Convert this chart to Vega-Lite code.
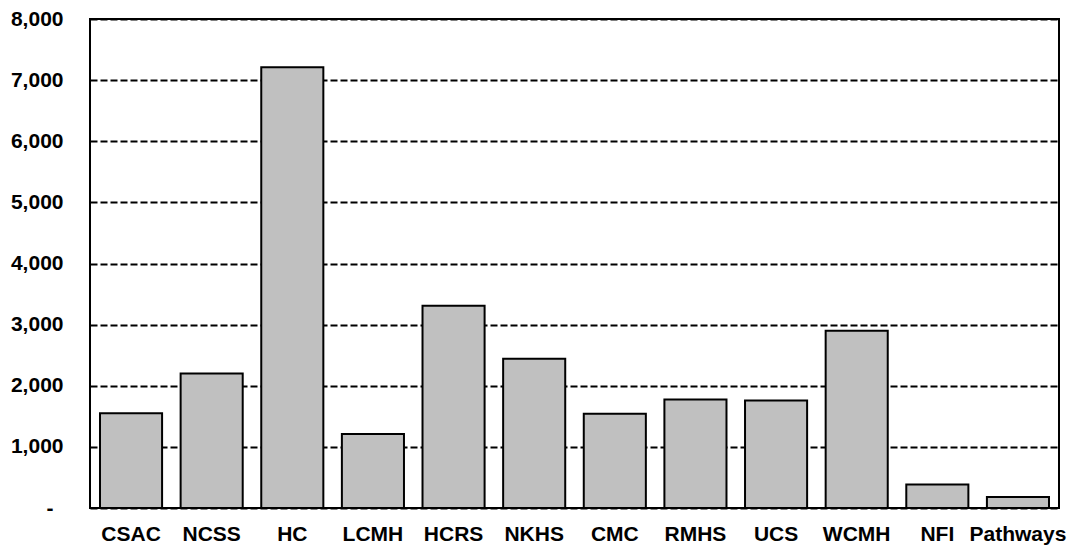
{
  "$schema": "https://vega.github.io/schema/vega-lite/v6.json",
  "width": 969,
  "height": 489,
  "autosize": "none",
  "padding": {"left": 90, "top": 19, "right": 16, "bottom": 40},
  "background": "white",
  "config": {
    "view": {"stroke": "black", "strokeWidth": 2},
    "font": "Liberation Sans"
  },
  "data": {
    "values": [
      {"org": "CSAC", "value": 1550},
      {"org": "NCSS", "value": 2200},
      {"org": "HC", "value": 7210},
      {"org": "LCMH", "value": 1210},
      {"org": "HCRS", "value": 3310},
      {"org": "NKHS", "value": 2440},
      {"org": "CMC", "value": 1540},
      {"org": "RMHS", "value": 1775},
      {"org": "UCS", "value": 1760},
      {"org": "WCMH", "value": 2900},
      {"org": "NFI", "value": 385},
      {"org": "Pathways", "value": 180}
    ]
  },
  "mark": {"type": "bar", "fill": "#c0c0c0", "stroke": "black", "strokeWidth": 2},
  "encoding": {
    "x": {
      "field": "org",
      "type": "nominal",
      "sort": null,
      "scale": {"paddingInner": 0.23, "paddingOuter": 0.124},
      "axis": {
        "title": null,
        "labelAngle": 0,
        "ticks": false,
        "domain": false,
        "labelFont": "Liberation Sans",
        "labelFontWeight": "bold",
        "labelFontSize": 21,
        "labelColor": "black",
        "labelPadding": 15
      }
    },
    "y": {
      "field": "value",
      "type": "quantitative",
      "scale": {"domain": [0, 8000], "nice": false},
      "axis": {
        "title": null,
        "values": [0, 1000, 2000, 3000, 4000, 5000, 6000, 7000, 8000],
        "labelExpr": "datum.value == 0 ? '-' : format(datum.value, ',')",
        "ticks": false,
        "domain": false,
        "labelFont": "Liberation Sans",
        "labelFontWeight": "bold",
        "labelFontSize": 21,
        "labelColor": "black",
        "labelPadding": {"condition": {"test": "datum.value == 0", "value": 37}, "value": 27},
        "grid": true,
        "gridColor": "black",
        "gridWidth": 2,
        "gridDash": [7, 3],
        "gridOpacity": 1
      }
    }
  }
}
